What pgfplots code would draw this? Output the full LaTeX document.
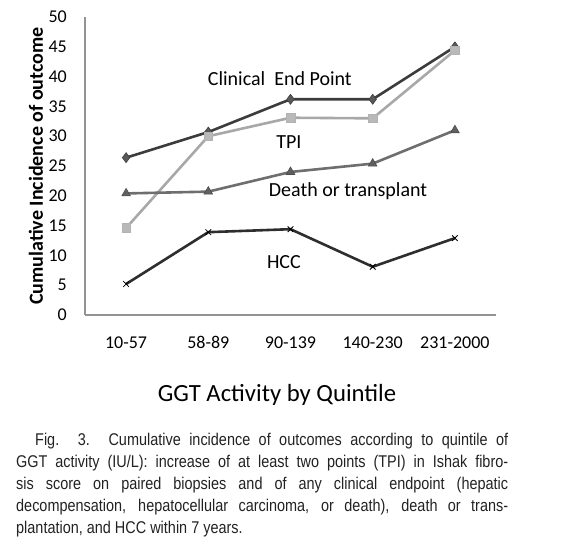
\documentclass[border=0pt]{standalone}
\usepackage{fontspec}
\setmainfont{Carlito}
\newfontfamily\capfont{Liberation Sans}[FakeStretch=0.85]
\usepackage{pgfplots}
\pgfplotsset{compat=1.18}
\definecolor{cClin}{HTML}{3C3C3C}
\definecolor{cTPI}{HTML}{A8A8A8}
\definecolor{cDeath}{HTML}{6E6E6E}
\definecolor{cHCC}{HTML}{2E2E2E}
\definecolor{capc}{HTML}{222222}
\begin{document}
\begin{tikzpicture}[x=1pt,y=1pt]
\path[use as bounding box] (0,0) rectangle (569,-550);
\begin{axis}[
  at={(85pt,-315pt)}, anchor=south west,
  width=411pt, height=298pt, scale only axis,
  xmin=0, xmax=5, ymin=0, ymax=50,
  axis x line=bottom, axis y line=left,
  axis line style={-, draw=gray!85, line width=1.6pt},
  major tick length=0pt,
  xtick={0.5,1.5,2.5,3.5,4.5},
  xticklabels={10-57,58-89,90-139,140-230,231-2000},
  ytick={0,5,...,50},
  /pgf/number format/assume math mode=true,
  ticklabel style={font=\fontsize{18}{20}\selectfont, inner sep=0pt},
  yticklabel style={xshift=-18pt},
  xticklabel style={anchor=base, yshift=-33pt},
  clip=false,
]
\addplot[cClin, line width=2.6pt, mark=diamond*, mark size=5pt,
  mark options={fill=gray!70!black, draw=gray!50!black, line width=0.6pt}]
  coordinates {(0.5,26.4) (1.5,30.7) (2.5,36.2) (3.5,36.2) (4.5,45.0)};
\addplot[cTPI, line width=2.6pt, mark=square*, mark size=4.3pt,
  mark options={fill=gray!55, draw=gray!60, line width=0.6pt}]
  coordinates {(0.5,14.6) (1.5,30.0) (2.5,33.1) (3.5,33.0) (4.5,44.4)};
\addplot[cDeath, line width=2.6pt, mark=triangle*, mark size=5pt,
  mark options={fill=gray!75!black, draw=gray!60!black, line width=0.6pt}]
  coordinates {(0.5,20.4) (1.5,20.7) (2.5,24.0) (3.5,25.4) (4.5,31.0)};
\addplot[cHCC, line width=2.6pt, mark=x, mark size=4pt,
  mark options={draw=black, line width=0.8pt}]
  coordinates {(0.5,5.2) (1.5,13.9) (2.5,14.4) (3.5,8.1) (4.5,12.9)};
\node[font=\fontsize{20}{22}\selectfont] at (axis cs:2.37,39.7) {Clinical\ \ End Point};
\node[font=\fontsize{20}{22}\selectfont] at (axis cs:2.48,29.0) {TPI};
\node[font=\fontsize{20}{22}\selectfont] at (axis cs:3.2,20.7) {Death or transplant};
\node[font=\fontsize{20}{22}\selectfont] at (axis cs:2.42,8.9) {HCC};
\end{axis}
\node[rotate=90, font=\bfseries\fontsize{20}{22}\selectfont] at (36,-166) {Cumulative Incidence of outcome};
\node[font=\fontsize{24.7}{28}\selectfont] at (277,-395) {GGT Activity by Quintile};
\node[anchor=north west, inner sep=0pt, text width=492pt, align=justify, text=capc,
  font=\capfont\fontsize{17}{22}\selectfont] at (16,-433) {\hspace*{19pt}Fig. 3. Cumulative incidence of outcomes according to quintile of\linebreak
GGT activity (IU/L): increase of at least two points (TPI) in Ishak fibro-\linebreak
sis score on paired biopsies and of any clinical endpoint (hepatic\linebreak
decompensation, hepatocellular carcinoma, or death), death or trans-\linebreak
plantation, and HCC within 7 years.};
\end{tikzpicture}
\end{document}
